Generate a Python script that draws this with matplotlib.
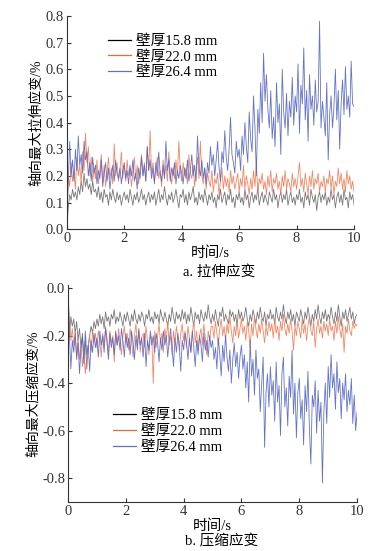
import numpy as np
from matplotlib import pyplot as plt

plt.rcParams['font.family'] = ['Liberation Serif', 'Noto Sans CJK SC']
plt.rcParams['axes.unicode_minus'] = True

labels = ["壁厚15.8 mm", "壁厚22.0 mm", "壁厚26.4 mm"]
colors = ["#6a6a6a", "#f27a52", "#5364c4"]
legend_colors = ["#000000", "#f0643c", "#5a74d0"]

# tension strain (%), sampled every 0.05 s
tens_158 = [0.00, 0.08, 0.13, 0.11, 0.15, 0.12, 0.14, 0.11, 0.16, 0.13, 0.18, 0.14, 0.21, 0.16, 0.19, 0.15, 0.17, 0.13, 0.18, 0.14,
            0.15, 0.12, 0.16, 0.11, 0.14, 0.10, 0.15, 0.12, 0.13, 0.09, 0.14, 0.11, 0.15, 0.12, 0.10, 0.14, 0.11, 0.13, 0.09, 0.12,
            0.14, 0.11, 0.13, 0.10, 0.15, 0.12, 0.09, 0.13, 0.11, 0.14, 0.10, 0.12, 0.15, 0.11, 0.13, 0.09, 0.12, 0.14, 0.10, 0.13,
            0.11, 0.14, 0.09, 0.12, 0.15, 0.10, 0.13, 0.11, 0.16, 0.12, 0.09, 0.13, 0.11, 0.14, 0.10, 0.12, 0.15, 0.11, 0.08, 0.13,
            0.12, 0.15, 0.10, 0.13, 0.09, 0.14, 0.11, 0.13, 0.16, 0.10, 0.12, 0.09, 0.14, 0.11, 0.13, 0.10, 0.15, 0.12, 0.09, 0.13,
            0.11, 0.14, 0.10, 0.12, 0.08, 0.13, 0.11, 0.15, 0.10, 0.12, 0.14, 0.09, 0.13, 0.11, 0.15, 0.10, 0.12, 0.08, 0.13, 0.11,
            0.14, 0.10, 0.12, 0.09, 0.15, 0.11, 0.13, 0.08, 0.12, 0.14, 0.10, 0.13, 0.11, 0.16, 0.09, 0.12, 0.14, 0.10, 0.13, 0.11,
            0.09, 0.14, 0.12, 0.10, 0.15, 0.11, 0.13, 0.08, 0.12, 0.14, 0.10, 0.13, 0.11, 0.15, 0.09, 0.12, 0.14, 0.10, 0.12, 0.09,
            0.13, 0.11, 0.15, 0.10, 0.12, 0.08, 0.14, 0.11, 0.13, 0.09, 0.15, 0.12, 0.10, 0.13, 0.07, 0.12, 0.14, 0.10, 0.13, 0.11,
            0.14, 0.09, 0.12, 0.10, 0.15, 0.11, 0.13, 0.08, 0.12, 0.14, 0.10, 0.13, 0.09, 0.15, 0.11, 0.12, 0.08, 0.14, 0.11, 0.13,
            0.09]
tens_220 = [0.00, 0.20, 0.16, 0.25, 0.18, 0.22, 0.15, 0.27, 0.20, 0.24, 0.17, 0.29, 0.22, 0.36, 0.25, 0.31, 0.20, 0.27, 0.18, 0.23,
            0.19, 0.26, 0.17, 0.22, 0.28, 0.18, 0.24, 0.16, 0.21, 0.27, 0.19, 0.23, 0.17, 0.32, 0.20, 0.25, 0.18, 0.22, 0.29, 0.19,
            0.24, 0.18, 0.26, 0.20, 0.23, 0.16, 0.21, 0.27, 0.19, 0.24, 0.17, 0.22, 0.28, 0.20, 0.25, 0.18, 0.31, 0.22, 0.37, 0.21,
            0.25, 0.18, 0.23, 0.27, 0.19, 0.22, 0.16, 0.26, 0.20, 0.24, 0.18, 0.29, 0.21, 0.17, 0.23, 0.19, 0.26, 0.20, 0.33, 0.22,
            0.18, 0.25, 0.20, 0.23, 0.17, 0.28, 0.21, 0.19, 0.24, 0.16, 0.22, 0.27, 0.19, 0.33, 0.20, 0.17, 0.23, 0.15, 0.21, 0.18,
            0.16, 0.22, 0.14, 0.19, 0.17, 0.21, 0.13, 0.18, 0.23, 0.15, 0.20, 0.16, 0.19, 0.14, 0.22, 0.17, 0.20, 0.15, 0.18, 0.21,
            0.14, 0.19, 0.16, 0.24, 0.15, 0.20, 0.17, 0.13, 0.19, 0.15, 0.22, 0.16, 0.25, 0.14, 0.19, 0.17, 0.21, 0.15, 0.18, 0.13,
            0.20, 0.16, 0.22, 0.14, 0.19, 0.17, 0.21, 0.15, 0.18, 0.13, 0.20, 0.16, 0.22, 0.15, 0.19, 0.17, 0.14, 0.21, 0.16, 0.19,
            0.15, 0.20, 0.25, 0.16, 0.19, 0.14, 0.21, 0.17, 0.13, 0.20, 0.16, 0.22, 0.15, 0.19, 0.17, 0.21, 0.14, 0.18, 0.16, 0.20,
            0.14, 0.19, 0.17, 0.22, 0.15, 0.20, 0.13, 0.18, 0.16, 0.23, 0.17, 0.21, 0.15, 0.19, 0.14, 0.22, 0.17, 0.20, 0.15, 0.18,
            0.14]
tens_264 = [0.05, 0.18, 0.33, 0.20, 0.26, 0.18, 0.30, 0.22, 0.35, 0.24, 0.28, 0.21, 0.33, 0.26, 0.29, 0.20, 0.25, 0.18, 0.27, 0.21,
            0.24, 0.17, 0.22, 0.19, 0.26, 0.16, 0.21, 0.25, 0.18, 0.23, 0.15, 0.20, 0.24, 0.18, 0.26, 0.21, 0.19, 0.23, 0.17, 0.22,
            0.25, 0.19, 0.22, 0.17, 0.24, 0.20, 0.26, 0.18, 0.21, 0.15, 0.23, 0.19, 0.27, 0.20, 0.24, 0.18, 0.31, 0.22, 0.26, 0.19,
            0.23, 0.17, 0.25, 0.20, 0.29, 0.21, 0.18, 0.24, 0.19, 0.33, 0.22, 0.26, 0.18, 0.23, 0.20, 0.25, 0.17, 0.22, 0.19, 0.24,
            0.21, 0.17, 0.23, 0.19, 0.26, 0.18, 0.22, 0.28, 0.20, 0.24, 0.18, 0.35, 0.23, 0.20, 0.26, 0.19, 0.23, 0.17, 0.25, 0.21,
            0.31, 0.24, 0.28, 0.20, 0.26, 0.33, 0.23, 0.18, 0.29, 0.25, 0.37, 0.27, 0.22, 0.30, 0.42, 0.28, 0.25, 0.21, 0.33, 0.27,
            0.30, 0.22, 0.35, 0.28, 0.40, 0.31, 0.25, 0.44, 0.34, 0.29, 0.50, 0.38, 0.20, 0.45, 0.36, 0.55, 0.40, 0.66, 0.48, 0.58,
            0.45, 0.38, 0.52, 0.34, 0.42, 0.31, 0.55, 0.40, 0.47, 0.28, 0.60, 0.44, 0.38, 0.51, 0.35, 0.48, 0.42, 0.57, 0.39, 0.50,
            0.44, 0.62, 0.36, 0.54, 0.47, 0.68, 0.41, 0.52, 0.33, 0.58, 0.45, 0.50, 0.39, 0.56, 0.44, 0.48, 0.78, 0.38, 0.48, 0.42,
            0.35, 0.55, 0.26, 0.43, 0.50, 0.38, 0.46, 0.60, 0.41, 0.52, 0.30, 0.47, 0.56, 0.43, 0.61, 0.45, 0.50, 0.42, 0.63, 0.47,
            0.46]

# compression strain (%)
comp_158 = [0.00, -0.20, -0.12, -0.16, -0.13, -0.19, -0.14, -0.22, -0.17, -0.25, -0.19, -0.28, -0.22, -0.34, -0.24, -0.20, -0.16, -0.19, -0.14, -0.17,
            -0.13, -0.16, -0.11, -0.15, -0.12, -0.17, -0.10, -0.14, -0.12, -0.16, -0.11, -0.13, -0.09, -0.15, -0.12, -0.14, -0.10, -0.13, -0.16, -0.11,
            -0.14, -0.10, -0.13, -0.16, -0.11, -0.14, -0.09, -0.13, -0.15, -0.11, -0.14, -0.10, -0.12, -0.16, -0.11, -0.13, -0.09, -0.14, -0.12, -0.15,
            -0.10, -0.13, -0.11, -0.15, -0.09, -0.12, -0.14, -0.10, -0.13, -0.16, -0.11, -0.14, -0.08, -0.12, -0.15, -0.10, -0.13, -0.11, -0.14, -0.09,
            -0.13, -0.10, -0.15, -0.11, -0.14, -0.08, -0.12, -0.16, -0.10, -0.13, -0.11, -0.15, -0.09, -0.12, -0.14, -0.10, -0.13, -0.07, -0.12, -0.15,
            -0.11, -0.14, -0.09, -0.13, -0.16, -0.10, -0.12, -0.08, -0.14, -0.11, -0.13, -0.15, -0.09, -0.12, -0.10, -0.14, -0.11, -0.16, -0.09, -0.13,
            -0.10, -0.14, -0.12, -0.08, -0.13, -0.16, -0.11, -0.14, -0.09, -0.12, -0.15, -0.10, -0.13, -0.08, -0.12, -0.14, -0.10, -0.16, -0.11, -0.13,
            -0.09, -0.13, -0.11, -0.15, -0.08, -0.12, -0.14, -0.10, -0.13, -0.07, -0.12, -0.15, -0.10, -0.13, -0.09, -0.14, -0.11, -0.16, -0.10, -0.12,
            -0.14, -0.09, -0.12, -0.15, -0.10, -0.13, -0.08, -0.12, -0.16, -0.11, -0.14, -0.09, -0.13, -0.07, -0.12, -0.15, -0.10, -0.13, -0.09, -0.14,
            -0.11, -0.13, -0.08, -0.12, -0.15, -0.10, -0.14, -0.07, -0.12, -0.16, -0.10, -0.13, -0.09, -0.14, -0.11, -0.08, -0.13, -0.10, -0.15, -0.12,
            -0.11]
comp_220 = [0.00, -0.14, -0.22, -0.17, -0.24, -0.19, -0.28, -0.21, -0.30, -0.24, -0.33, -0.26, -0.36, -0.29, -0.25, -0.20, -0.27, -0.18, -0.23, -0.19,
            -0.25, -0.18, -0.22, -0.29, -0.19, -0.24, -0.16, -0.21, -0.27, -0.18, -0.23, -0.20, -0.31, -0.19, -0.24, -0.17, -0.22, -0.28, -0.20, -0.16,
            -0.23, -0.19, -0.26, -0.17, -0.22, -0.29, -0.20, -0.15, -0.24, -0.18, -0.27, -0.21, -0.19, -0.25, -0.16, -0.22, -0.28, -0.20, -0.21, -0.40,
            -0.18, -0.25, -0.20, -0.15, -0.23, -0.19, -0.27, -0.17, -0.22, -0.14, -0.24, -0.20, -0.28, -0.18, -0.23, -0.16, -0.21, -0.26, -0.19, -0.15,
            -0.22, -0.18, -0.25, -0.16, -0.21, -0.27, -0.19, -0.14, -0.23, -0.18, -0.26, -0.20, -0.17, -0.24, -0.15, -0.21, -0.28, -0.18, -0.22, -0.16,
            -0.16, -0.21, -0.14, -0.19, -0.24, -0.17, -0.13, -0.20, -0.16, -0.22, -0.15, -0.19, -0.12, -0.18, -0.23, -0.16, -0.20, -0.14, -0.21, -0.17,
            -0.13, -0.19, -0.16, -0.22, -0.14, -0.18, -0.25, -0.15, -0.20, -0.12, -0.17, -0.21, -0.15, -0.19, -0.13, -0.18, -0.23, -0.16, -0.20, -0.14,
            -0.18, -0.15, -0.21, -0.13, -0.19, -0.16, -0.22, -0.14, -0.18, -0.11, -0.17, -0.20, -0.15, -0.19, -0.13, -0.18, -0.26, -0.16, -0.20, -0.14,
            -0.17, -0.21, -0.13, -0.19, -0.15, -0.22, -0.16, -0.12, -0.18, -0.20, -0.14, -0.25, -0.17, -0.13, -0.19, -0.16, -0.21, -0.14, -0.18, -0.15,
            -0.20, -0.13, -0.18, -0.16, -0.22, -0.14, -0.19, -0.12, -0.17, -0.21, -0.15, -0.27, -0.16, -0.19, -0.13, -0.18, -0.20, -0.14, -0.17, -0.15,
            -0.16]
comp_264 = [0.00, -0.20, -0.34, -0.22, -0.27, -0.19, -0.30, -0.23, -0.36, -0.25, -0.21, -0.32, -0.18, -0.28, -0.24, -0.35, -0.22, -0.27, -0.19, -0.25,
            -0.21, -0.29, -0.18, -0.24, -0.20, -0.27, -0.17, -0.23, -0.30, -0.19, -0.25, -0.21, -0.28, -0.18, -0.24, -0.20, -0.26, -0.17, -0.22, -0.29,
            -0.19, -0.25, -0.21, -0.28, -0.18, -0.23, -0.30, -0.20, -0.26, -0.17, -0.24, -0.21, -0.29, -0.19, -0.33, -0.22, -0.26, -0.18, -0.24, -0.20,
            -0.27, -0.19, -0.23, -0.31, -0.21, -0.26, -0.18, -0.24, -0.20, -0.29, -0.22, -0.17, -0.25, -0.33, -0.21, -0.27, -0.19, -0.24, -0.35, -0.22,
            -0.26, -0.19, -0.23, -0.30, -0.21, -0.27, -0.18, -0.25, -0.33, -0.22, -0.28, -0.20, -0.24, -0.31, -0.19, -0.26, -0.22, -0.29, -0.20, -0.25,
            -0.22, -0.30, -0.25, -0.34, -0.21, -0.28, -0.37, -0.24, -0.31, -0.20, -0.29, -0.35, -0.26, -0.40, -0.30, -0.23, -0.33, -0.27, -0.38, -0.29,
            -0.24, -0.34, -0.28, -0.42, -0.31, -0.48, -0.22, -0.37, -0.30, -0.45, -0.26, -0.38, -0.34, -0.52, -0.40, -0.29, -0.67, -0.44, -0.36, -0.50,
            -0.33, -0.45, -0.39, -0.56, -0.31, -0.48, -0.41, -0.62, -0.36, -0.29, -0.50, -0.42, -0.58, -0.37, -0.46, -0.26, -0.53, -0.40, -0.63, -0.44,
            -0.38, -0.55, -0.47, -0.66, -0.41, -0.52, -0.35, -0.59, -0.74, -0.45, -0.50, -0.39, -0.61, -0.43, -0.56, -0.48, -0.82, -0.52, -0.40, -0.57,
            -0.33, -0.46, -0.28, -0.42, -0.36, -0.51, -0.31, -0.44, -0.38, -0.55, -0.40, -0.47, -0.36, -0.52, -0.43, -0.49, -0.38, -0.57, -0.45, -0.60,
            -0.52]

xticks = [0, 2, 4, 6, 8, 10]

fig = plt.figure(figsize=(3.84, 5.51), dpi=100)
ax1 = fig.add_axes([0.174, 0.584, 0.748, 0.387])
ax2 = fig.add_axes([0.177, 0.089, 0.753, 0.394])


def draw(ax, series, ylim, yticks, ylabel, caption, caption_y, legend_anchor):
    for data, c in zip(series, colors):
        t = np.linspace(0, 10, len(data))
        ax.plot(t, data, color=c, lw=0.6, alpha=0.9)
    handles = [plt.Line2D([], [], color=c, lw=0.9) for c in legend_colors]
    ax.legend(handles, labels, loc='upper left', bbox_to_anchor=legend_anchor,
              frameon=False, fontsize=10.5, handlelength=1.6, handletextpad=0.35,
              labelspacing=0.15, borderaxespad=0, borderpad=0)
    ax.set_xlim(0, 10)
    ax.set_ylim(*ylim)
    ax.set_xticks(xticks)
    ax.set_yticks(yticks)
    ax.yaxis.set_major_formatter(plt.FormatStrFormatter('%.1f'))
    ax.spines['top'].set_visible(False)
    ax.spines['right'].set_visible(False)
    ax.spines['left'].set_color('#333333')
    ax.spines['bottom'].set_color('#333333')
    ax.tick_params(direction='in', length=3, labelsize=10.5, colors='#333333', pad=2)
    ax.set_xlabel("时间/s", fontsize=10.5, labelpad=1)
    ax.set_ylabel(ylabel, fontsize=10, labelpad=2)
    ax.text(0.53, caption_y, caption, transform=ax.transAxes, ha='center', va='center', fontsize=10.5)


draw(ax1, [tens_158, tens_220, tens_264], (0, 0.8), [0, 0.1, 0.2, 0.3, 0.4, 0.5, 0.6, 0.7, 0.8],
     "轴向最大拉伸应变/%", "a. 拉伸应变", -0.2, (0.143, 0.915))
draw(ax2, [comp_158, comp_220, comp_264], (-0.9, 0.014), [-0.8, -0.6, -0.4, -0.2, 0.0],
     "轴向最大压缩应变/%", "b. 压缩应变", -0.18, (0.155, 0.43))

fig.savefig("out.png", dpi=100)
